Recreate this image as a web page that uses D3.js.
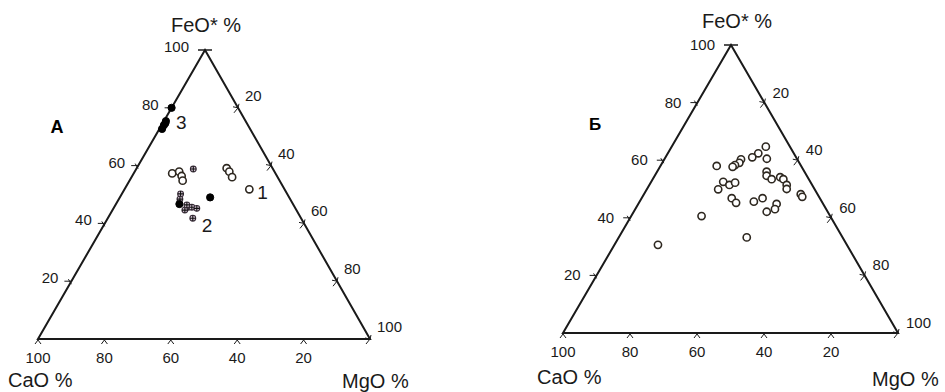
<!DOCTYPE html>
<html><head><meta charset="utf-8">
<script src="https://cdn.jsdelivr.net/npm/d3@7"></script>
<style>html,body{margin:0;padding:0;background:#fff;} svg{display:block;font-family:"Liberation Sans",Arial,sans-serif;}</style>
</head><body>
<svg id="chart" width="945" height="392"></svg>
<script>
// ---- data: [FeO*, MgO, CaO] in % ----
const sideTicks = [20, 40, 60, 80, 100];
const baseTicks = [100, 80, 60, 40, 20];
const panelNames = ["А", "Б"];
const titleTop = "FeO* %";
const titleLeft = "CaO %";
const titleRight = "MgO %";
const groupNames = ["1", "2", "3"];

// Panel A
const aOpen = [
  [57.3, 11.6, 31.1], [57.9, 13.4, 28.7], [56.4, 14.9, 28.7], [54.8, 16.0, 29.2],
  [59.1, 27.1, 13.8], [57.9, 28.5, 13.6], [56.0, 30.3, 13.7], [51.8, 37.6, 10.6]
];
const aCross = [
  [58.8, 17.2, 24.0], [50.2, 17.7, 32.1], [48.4, 18.4, 33.2], [45.6, 22.3, 32.1],
  [44.6, 21.8, 33.6], [45.6, 23.4, 31.0], [45.2, 25.1, 29.7], [41.8, 25.6, 32.6],
  [46.4, 21.5, 32.1]
];
const aFilled = [
  [80.0, 0.0, 20.0], [75.4, 0.6, 24.0], [74.7, 0.8, 24.5], [74.0, 0.7, 25.3],
  [72.7, 0.8, 26.5], [46.7, 19.1, 34.2], [49.0, 27.2, 23.8]
];
// group label anchor points (FeO, MgO, CaO)
const aGroupPos = [[51.8, 37.6, 10.6], [41.8, 25.6, 32.6], [74.0, 0.7, 25.3]];

// Panel Б
const bOpen = [
  [64.7, 28.1, 7.2], [62.4, 27.0, 10.6], [61.0, 25.9, 13.1], [60.5, 30.5, 9.0],
  [60.3, 22.9, 16.8], [59.1, 23.0, 17.9], [58.3, 22.1, 19.6], [57.7, 21.7, 20.6],
  [58.0, 16.8, 25.2], [56.0, 32.7, 11.3], [54.6, 33.4, 12.0], [53.4, 35.5, 11.1],
  [54.1, 37.7, 8.2], [53.4, 39.0, 7.6], [51.4, 41.0, 7.6], [50.0, 41.7, 8.3],
  [52.5, 21.5, 26.0], [51.4, 23.9, 24.7], [52.2, 25.2, 22.6], [49.9, 21.3, 28.8],
  [48.2, 46.8, 5.0], [47.3, 47.7, 5.0], [46.8, 26.9, 26.3], [45.2, 29.0, 25.8],
  [45.6, 34.1, 20.3], [46.8, 36.1, 17.1], [44.8, 41.3, 13.9], [43.0, 41.7, 15.3],
  [42.1, 39.7, 18.2], [40.6, 21.0, 38.4], [33.2, 38.2, 28.6], [30.6, 13.0, 56.4]
];

// ---- layout ----
const svg = d3.select("#chart");
const ink = "#1a1a1a";

const panels = [
  { name: panelNames[0], A: [38, 339], B: [370, 339], C: [205, 50],
    nameXY: [57, 133], nameSize: 18, leftDx: -13, leftDy: -3, rightDx: 7, rightDy: -12,
    topTitleXY: [206, 32], cLabelXY: [8, 387], mLabelXY: [342, 388],
    open: aOpen, cross: aCross, filled: aFilled, groups: aGroupPos },
  { name: panelNames[1], A: [563, 333], B: [898, 333], C: [731, 45],
    nameXY: [595, 130], nameSize: 17, leftDx: -16, leftDy: 0, rightDx: 8, rightDy: -10,
    topTitleXY: [737, 28], cLabelXY: [537, 384], mLabelXY: [872, 386],
    open: bOpen, cross: [], filled: [], groups: [] }
];

panels.forEach(P => {
  const g = svg.append("g");
  const feY = d3.scaleLinear().domain([0, 100]).range([P.A[1], P.C[1]]);
  const feX = d3.scaleLinear().domain([0, 100]).range([0, P.C[0] - P.A[0]]);
  const mgX = d3.scaleLinear().domain([0, 100]).range([0, P.B[0] - P.A[0]]);
  const proj = d => [P.A[0] + mgX(d[1]) + feX(d[0]), feY(d[0])];

  // triangle
  const tri = [proj([0, 0, 100]), proj([0, 100, 0]), proj([100, 0, 0])];
  g.append("path")
    .attr("d", d3.line()(tri) + "Z")
    .attr("fill", "none").attr("stroke", ink).attr("stroke-width", 2)
    .attr("stroke-linejoin", "miter");

  // apex bar
  const apex = proj([100, 0, 0]);
  g.append("line").attr("x1", apex[0] - 7).attr("x2", apex[0] + 7)
    .attr("y1", apex[1]).attr("y2", apex[1]).attr("stroke", ink).attr("stroke-width", 1.5);

  // left side ticks (FeO)
  sideTicks.forEach(t => {
    const p = proj([t, 0, 100 - t]);
    if (t < 100) {
      g.append("path")
        .attr("d", `M${p[0] - 7},${p[1]} L${p[0]},${p[1]} M${p[0] - 3},${p[1] - 2} L${p[0]},${p[1] + 3}`)
        .attr("stroke", ink).attr("stroke-width", 1).attr("fill", "none");
    }
    g.append("text")
      .attr("x", p[0] + (t === 100 ? -16 : P.leftDx)).attr("y", p[1] + P.leftDy + 5)
      .attr("text-anchor", "end").attr("font-size", 15).attr("fill", ink).text(t);
  });

  // right side ticks (MgO)
  sideTicks.forEach(t => {
    const p = proj([100 - t, t, 0]);
    g.append("path")
      .attr("d", `M${p[0]},${p[1]} L${p[0] - 4},${p[1] + 5} M${p[0] - 5},${p[1] - 1} L${p[0]},${p[1]} L${p[0] + 1},${p[1] - 4}`)
      .attr("stroke", ink).attr("stroke-width", 1).attr("fill", "none");
    g.append("text")
      .attr("x", p[0] + P.rightDx).attr("y", p[1] + P.rightDy + 5)
      .attr("text-anchor", "start").attr("font-size", 15).attr("fill", ink).text(t);
  });

  // bottom ticks (CaO)
  baseTicks.forEach(t => {
    const p = proj([0, 100 - t, t]);
    g.append("path")
      .attr("d", `M${p[0] - 3},${p[1] + 5} L${p[0]},${p[1] + 1} L${p[0] + 3},${p[1] + 5}`)
      .attr("stroke", ink).attr("stroke-width", 1).attr("fill", "none");
    g.append("text")
      .attr("x", p[0]).attr("y", p[1] + 24)
      .attr("text-anchor", "middle").attr("font-size", 15).attr("fill", ink).text(t);
  });

  // titles
  g.append("text").attr("x", P.topTitleXY[0]).attr("y", P.topTitleXY[1])
    .attr("text-anchor", "middle").attr("font-size", 20).attr("fill", ink).text(titleTop);
  g.append("text").attr("x", P.cLabelXY[0]).attr("y", P.cLabelXY[1])
    .attr("text-anchor", "start").attr("font-size", 20).attr("fill", ink).text(titleLeft);
  g.append("text").attr("x", P.mLabelXY[0]).attr("y", P.mLabelXY[1])
    .attr("text-anchor", "start").attr("font-size", 20).attr("fill", ink).text(titleRight);
  g.append("text").attr("x", P.nameXY[0]).attr("y", P.nameXY[1])
    .attr("text-anchor", "middle").attr("font-size", P.nameSize).attr("font-weight", "bold")
    .attr("fill", "#000").text(P.name);

  // markers
  g.selectAll(".open").data(P.open).join("circle").attr("class", "open")
    .attr("cx", d => proj(d)[0]).attr("cy", d => proj(d)[1]).attr("r", 3.6)
    .attr("fill", "#fff").attr("stroke", "#2e2820").attr("stroke-width", 1.6);

  const cg = g.selectAll(".cross").data(P.cross).join("g").attr("class", "cross")
    .attr("transform", d => `translate(${proj(d)[0]},${proj(d)[1]})`);
  cg.append("circle").attr("r", 2.9).attr("fill", "#d8c8d8").attr("stroke", "#3a2e3a").attr("stroke-width", 1.1);
  cg.append("path").attr("d", "M-2.9,0L2.9,0M0,-2.9L0,2.9").attr("stroke", "#111").attr("stroke-width", 1.1);

  g.selectAll(".filled").data(P.filled).join("circle").attr("class", "filled")
    .attr("cx", d => proj(d)[0]).attr("cy", d => proj(d)[1]).attr("r", 3.6)
    .attr("fill", "#000").attr("stroke", "#000").attr("stroke-width", 1);

  // group labels
  const gOff = [[8, 10], [9, 14], [12, 4]];
  P.groups.forEach((d, i) => {
    const p = proj(d);
    g.append("text").attr("x", p[0] + gOff[i][0]).attr("y", p[1] + gOff[i][1])
      .attr("font-size", 19).attr("fill", ink).text(groupNames[i]);
  });
});
</script>
</body></html>
